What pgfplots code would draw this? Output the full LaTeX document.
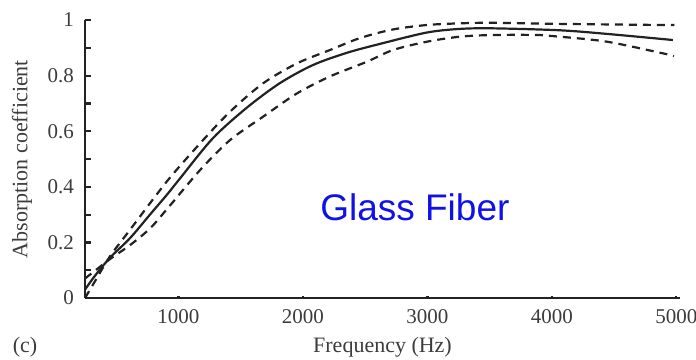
\documentclass[border=0pt]{standalone}
\usepackage{pgfplots}
\pgfplotsset{compat=1.18}
\usepackage{fontspec}
\setmainfont{Liberation Serif}
\newfontfamily\arialfont{Liberation Sans}
\definecolor{txt}{HTML}{3C3C3C}
\definecolor{ln}{HTML}{222222}
\definecolor{gfblue}{HTML}{1010E8}
\begin{document}
\begin{tikzpicture}
\begin{axis}[
  scale only axis,
  width=297.5pt, height=139pt,
  xmin=250, xmax=5030,
  ymin=0, ymax=1,
  axis lines*=left,
  axis line style={ln, line width=1.3pt},
  tick align=inside,
  xtick={1000,2000,3000,4000,5000},
  ytick={0,0.2,0.4,0.6,0.8,1},
  yticklabels={0,0.2,0.4,0.6,0.8,1},
  minor ytick={0.1,0.3,0.5,0.7,0.9},
  major tick length=3pt, minor tick length=3pt,
  xtick style={ln, line width=1.2pt, /pgfplots/major tick length=1.2pt},
  ytick style={ln, line width=1.1pt},
  minor tick style={ln, line width=1.1pt},
  /pgf/number format/assume math mode=true,
  /pgf/number format/1000 sep={},
  tick label style={font=\fontsize{10.5}{12}\selectfont, text=txt},
  yticklabel style={xshift=-2pt},
  xticklabel style={yshift=-2pt},
  xlabel={Frequency (Hz)},
  ylabel={Absorption coefficient},
  label style={font=\fontsize{11}{13}\selectfont, text=txt},
  xlabel style={at={(rel axis cs:0.5,0)}, anchor=center, yshift=-24.5pt},
  ylabel style={at={(rel axis cs:0,0.5)}, anchor=center, rotate=0, yshift=31.5pt},
  clip=false,
]
% solid (mean)
\addplot[ln, line width=1.1pt, smooth] coordinates {
(250,0.03) (330,0.08) (451,0.145) (611,0.215) (772,0.30) (909,0.372) (1013,0.43)
(1278,0.575) (1551,0.685) (1816,0.773) (2081,0.838) (2354,0.882) (2619,0.914)
(2997,0.955) (3262,0.968) (3527,0.97) (4065,0.963) (4443,0.95) (4973,0.928)
};
% upper dashed
\addplot[ln, line width=1.1pt, smooth, dash pattern=on 4pt off 3pt] coordinates {
(250,0.0) (330,0.06) (451,0.15) (611,0.245) (909,0.42) (1174,0.556) (1415,0.67)
(1680,0.772) (1953,0.844) (2218,0.892) (2459,0.935) (2724,0.966) (2997,0.982)
(3262,0.988) (3527,0.99) (4065,0.986) (4893,0.982) (4981,0.982)
};
% lower dashed
\addplot[ln, line width=1.1pt, smooth, dash pattern=on 4pt off 3pt] coordinates {
(250,0.07) (451,0.14) (611,0.19) (772,0.25) (909,0.32) (1174,0.46) (1415,0.568)
(1680,0.652) (1953,0.736) (2218,0.797) (2515,0.85) (2724,0.892) (2997,0.922)
(3262,0.94) (3527,0.946) (3905,0.946) (4065,0.94) (4443,0.922) (4893,0.88) (4981,0.87)
};
\node[font=\arialfont\fontsize{18.5}{20}\selectfont, text=gfblue] at (axis cs:2900,0.327) {Glass Fiber};
\node[font=\fontsize{11}{13}\selectfont, text=txt] at ([xshift=-30pt,yshift=-24.5pt]rel axis cs:0,0) {(c)};
\coordinate (o) at (rel axis cs:0,0);
\end{axis}
\pgfresetboundingbox
\path ([xshift=-42.5pt,yshift=-30.5pt]o) rectangle ([xshift=305.5pt,yshift=149pt]o);
\end{tikzpicture}
\end{document}
